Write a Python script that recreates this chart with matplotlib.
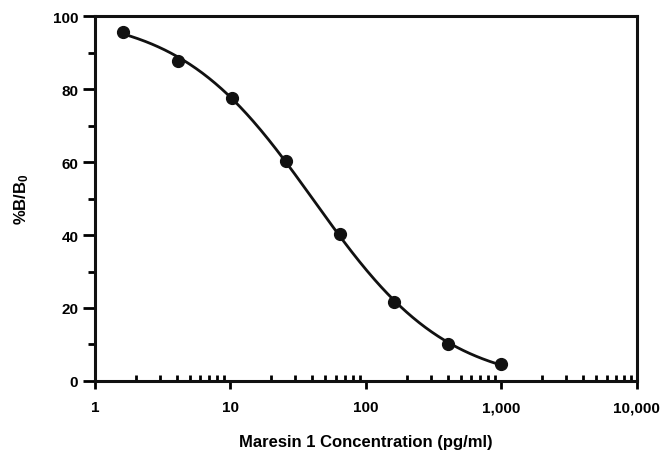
import matplotlib
matplotlib.use("Agg")
import matplotlib.pyplot as plt
import numpy as np
from matplotlib.ticker import FixedLocator, FuncFormatter, LogLocator, NullFormatter

plt.rcParams["font.family"] = ["Liberation Sans", "DejaVu Sans"]
plt.rcParams["font.weight"] = "bold"
plt.rcParams["mathtext.fontset"] = "custom"
plt.rcParams["mathtext.rm"] = "Liberation Sans:bold"
plt.rcParams["mathtext.bf"] = "Liberation Sans:bold"
plt.rcParams["mathtext.default"] = "bf"

# standard curve points (2.5-fold dilutions)
conc = [1.6, 4.1, 10.2, 25.6, 64, 160, 400, 1000]
pct_b = [95.6, 87.7, 77.5, 60.3, 40.3, 21.6, 10.1, 4.7]

x_ticks = [1, 10, 100, 1000, 10000]
x_tick_labels = ["1", "10", "100", "1,000", "10,000"]
y_ticks = [0, 20, 40, 60, 80, 100]

# 4-parameter logistic fit through the points (grid over top/bottom)
x = np.array(conc, dtype=float)
y = np.array(pct_b, dtype=float)
lg = np.log10(x)
best = None
for top in np.arange(96.0, 112.0, 0.25):
    for bot in np.arange(-6.0, 4.0, 0.25):
        f = (y - bot) / (top - bot)
        k, c = np.polyfit(lg, np.log(f / (1 - f)), 1)
        pred = bot + (top - bot) / (1 + np.exp(-(k * lg + c)))
        sse = np.sum((pred - y) ** 2)
        if best is None or sse < best[0]:
            best = (sse, top, bot, k, c)
_, top, bot, k, c = best
xs = np.logspace(np.log10(x.min()), np.log10(x.max()), 300)
ys = bot + (top - bot) / (1 + np.exp(-(k * np.log10(xs) + c)))

fig = plt.figure(figsize=(6.69, 4.52), dpi=100)
ax = fig.add_axes([0.142, 0.155, 0.81, 0.807])

ax.plot(xs, ys, color="#111111", lw=2.0, zorder=2)
ax.plot(conc, pct_b, "o", color="#111111", ms=8.5, zorder=3)

ax.set_xscale("log")
ax.set_xlim(1, 10000)
ax.set_ylim(0, 100)

ax.xaxis.set_major_locator(FixedLocator(x_ticks))
ax.xaxis.set_major_formatter(FuncFormatter(lambda v, p: x_tick_labels[x_ticks.index(round(v))] if round(v) in x_ticks else ""))
ax.xaxis.set_minor_locator(LogLocator(base=10, subs=np.arange(2, 10)))
ax.xaxis.set_minor_formatter(NullFormatter())
ax.set_yticks(y_ticks)
ax.set_yticks([10, 30, 50, 70, 90], minor=True)

ax.tick_params(axis="x", which="major", direction="out", length=6, width=2.0, labelsize=11, pad=8)
ax.tick_params(axis="x", which="minor", direction="in", length=4, width=2.0)
ax.tick_params(axis="y", which="major", direction="out", length=9, width=2.0, labelsize=11, pad=3)
ax.tick_params(axis="y", which="minor", direction="out", length=5, width=2.0)

for s in ax.spines.values():
    s.set_linewidth(2.2)
    s.set_color("#111111")

ax.set_xlabel("Maresin 1 Concentration (pg/ml)", fontsize=12, fontweight="bold", labelpad=14)
ax.set_ylabel("%B/B$_0$", fontsize=12, fontweight="bold", labelpad=16)

fig.savefig("out.png", dpi=100)
